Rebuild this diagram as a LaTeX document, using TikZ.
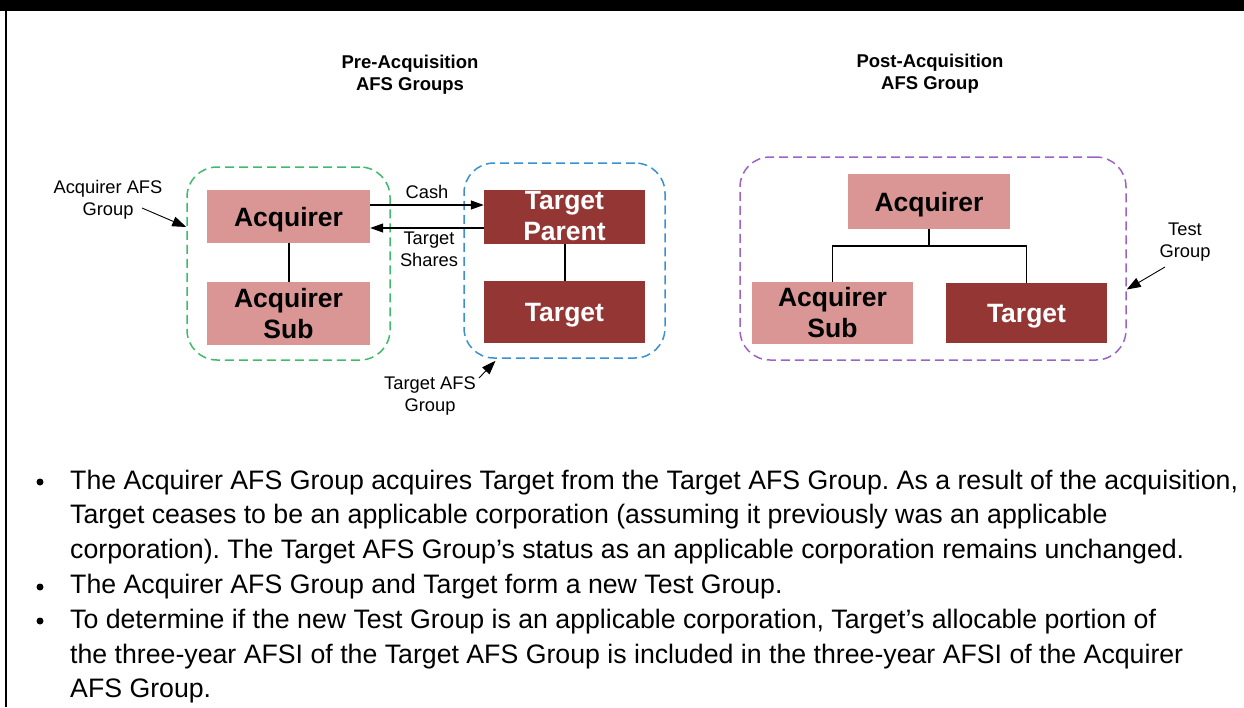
\documentclass[tikz,border=0pt]{standalone}
\usepackage{fontspec}
\setmainfont{Liberation Sans}
\usetikzlibrary{arrows.meta}
\definecolor{pinkbox}{HTML}{D99694}
\definecolor{redbox}{HTML}{943634}
\definecolor{grpgreen}{HTML}{3DBB6B}
\definecolor{grpblue}{HTML}{3C8FD2}
\definecolor{grppurple}{HTML}{9B63C9}

\begin{document}
\frenchspacing
\begin{tikzpicture}[x=1pt,y=-1pt,
  entity/.style={rectangle, inner sep=0pt, align=center,
    font=\fontsize{26.5}{31}\selectfont\bfseries},
  light/.style={entity, fill=pinkbox, text=black},
  dark/.style={entity, fill=redbox, text=white},
  oneline/.style={text depth=0pt},
  grp/.style={rectangle, draw=#1, line width=1.5pt, dash pattern=on 9pt off 5pt,
    rounded corners=30pt, inner sep=0pt},
  lbl/.style={font=\fontsize{18.3}{22}\selectfont, align=center, inner sep=0pt},
  head/.style={font=\fontsize{18.5}{22}\selectfont\bfseries, align=center, inner sep=0pt},
  link/.style={line width=2pt},
  tree/.style={line width=1.3pt},
  flow/.style={line width=1.2pt, -{Triangle[length=13pt,width=9pt]}},
  pointer/.style={line width=0.9pt, -{Triangle[length=14pt,width=10pt]}},
  body/.style={font=\fontsize{26.7}{34.8}\selectfont, anchor=base west, inner sep=0pt},
  dot/.style={circle, fill=black, inner sep=0pt, minimum size=7pt}
]
\useasboundingbox (0,0) rectangle (1244,707);

% frame: title band and left rule
\fill[black] (0,0) rectangle (1244,11);
\draw[line width=2pt] (6,11) -- (6,707);

% column headings
\node[head] (hpre) at (410,75) {Pre-Acquisition\\AFS Groups};
\node[head] (hpost) at (930,74) {Post-Acquisition\\AFS Group};

% group outlines
\node[grp=grpgreen, minimum width=203pt, minimum height=193pt] (grpA) at (288.5,263.5) {};
\node[grp=grpblue, minimum width=201pt, minimum height=195pt] (grpT) at (564.5,260.5) {};
\node[grp=grppurple, minimum width=386pt, minimum height=203pt] (grpP) at (933,258.5) {};

% pre-acquisition entities
\node[light, oneline, minimum width=163pt, minimum height=53pt] (acq1) at (288.5,216.5) {Acquirer};
\node[light, minimum width=163pt, minimum height=63pt] (acqsub1) at (288.5,313.5) {Acquirer\\Sub};
\node[dark, minimum width=161pt, minimum height=54pt] (tparent) at (564.5,216.5) {Target\\Parent};
\node[dark, oneline, minimum width=161pt, minimum height=62pt] (target1) at (564.5,312) {Target};
\draw[link] (acq1) -- (acqsub1);
\draw[link] (tparent) -- (target1);

% exchange between the two groups
\draw[flow] ([yshift=11.5pt]acq1.east) -- ([yshift=11.5pt]tparent.west)
  node[lbl, midway, above=6pt] (cash) {Cash};
\draw[flow] ([yshift=-11.5pt]tparent.west) -- ([yshift=-11.5pt]acq1.east);
\node[lbl] (shares) at (429,249) {Target\\Shares};

% post-acquisition entities
\node[light, oneline, minimum width=162pt, minimum height=55pt] (acq2) at (929,201.5) {Acquirer};
\node[light, minimum width=161pt, minimum height=62pt] (acqsub2) at (832.5,313) {Acquirer\\Sub};
\node[dark, oneline, minimum width=161pt, minimum height=60pt] (target2) at (1026.5,313) {Target};
\coordinate (fork) at (929,246);
\draw[tree] (acq2) -- (fork);
\draw[tree] (fork) -| (acqsub2);
\draw[tree] (fork) -| (target2);

% group callouts
\node[lbl] (lblA) at (108,200) {Acquirer AFS\\Group};
\coordinate (lblAtail) at (142,208);
\draw[pointer] (lblAtail) -- ([yshift=36.5pt]grpA.west);

\node[lbl] (lblT) at (430,396) {Target AFS\\Group};
\coordinate (lblTtail) at (479,378);
\draw[pointer] (lblTtail) -- ([xshift=-69pt,yshift=-2pt]grpT.south);

\node[lbl] (lblP) at (1185,242) {Test\\Group};
\coordinate (lblPtail) at (1165,267);
\draw[pointer] (lblPtail) -- ([yshift=-31pt]grpP.east);

% explanatory bullets
\node[dot] (b1) at (40,482) {};
\node[dot] (b2) at (40,587) {};
\node[dot] (b3) at (40,621) {};
\node[body] (t1) at (70,489) {The Acquirer AFS Group acquires Target from the Target AFS Group. As a result of the acquisition,};
\node[body] (t2) at (70,523.8) {Target ceases to be an applicable corporation (assuming it previously was an applicable};
\node[body] (t3) at (70,558.6) {corporation). The Target AFS Group’s status as an applicable corporation remains unchanged.};
\node[body] (t4) at (70,593.4) {The Acquirer AFS Group and Target form a new Test Group.};
\node[body] (t5) at (70,628.2) {To determine if the new Test Group is an applicable corporation, Target’s allocable portion of};
\node[body] (t6) at (70,663) {the three-year AFSI of the Target AFS Group is included in the three-year AFSI of the Acquirer};
\node[body] (t7) at (70,697.8) {AFS Group.};
\end{tikzpicture}
\end{document}
